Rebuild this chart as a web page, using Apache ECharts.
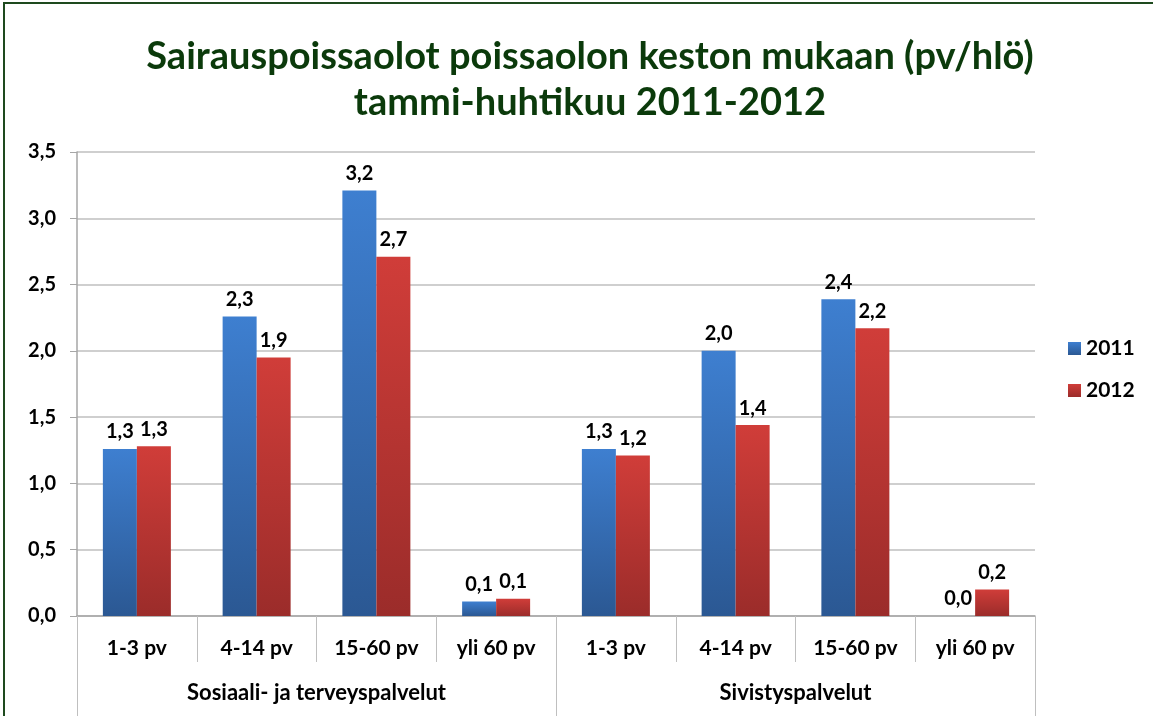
<!DOCTYPE html>
<html>
<head>
<meta charset="utf-8">
<script src="https://cdn.jsdelivr.net/npm/echarts@6/dist/echarts.min.js"></script>
<style>
html,body{margin:0;padding:0;background:#fff;overflow:hidden;}
#frame{position:absolute;left:3px;top:2px;width:1300px;height:900px;border:2px solid #1e4a1e;box-sizing:border-box;}
#chart{position:absolute;left:0;top:0;width:1153px;height:716px;}
</style>
</head>
<body>
<div id="frame"></div>
<div id="chart"></div>
<script>
const titleLines = ['Sairauspoissaolot poissaolon keston mukaan (pv/hlö)', 'tammi-huhtikuu 2011-2012'];
const durations = ['1-3 pv', '4-14 pv', '15-60 pv', 'yli 60 pv', '1-3 pv', '4-14 pv', '15-60 pv', 'yli 60 pv'];
const groups = ['Sosiaali- ja terveyspalvelut', 'Sivistyspalvelut'];
const seriesNames = ['2011', '2012'];
const values2011 = [1.26, 2.26, 3.21, 0.11, 1.26, 2.00, 2.39, 0.00];
const values2012 = [1.28, 1.95, 2.71, 0.13, 1.21, 1.44, 2.17, 0.20];
const yTicks = {min: 0, max: 3.5, interval: 0.5};

const FONT = 'Lato';
const fmt = v => Number(v).toFixed(1).replace('.', ',');

function grad(top, bottom) {
  return new echarts.graphic.LinearGradient(0, 0, 0, 1, [
    {offset: 0, color: top}, {offset: 1, color: bottom}
  ]);
}

const chart = echarts.init(document.getElementById('chart'), null, {renderer: 'canvas'});
const labelStyle = {
  show: true, position: 'top', distance: 7,
  formatter: p => fmt(p.value),
  fontFamily: FONT, fontWeight: 'bold', fontSize: 20, color: '#000'
};
chart.setOption({
  backgroundColor: 'transparent',
  animation: false,
  title: {
    text: titleLines.join('\n'),
    left: 585, top: 29, textAlign: 'center',
    textStyle: {fontFamily: FONT, fontWeight: 'bold', fontSize: 38, lineHeight: 46, color: '#0b3a0b'}
  },
  legend: {
    orient: 'vertical', left: 1063, top: 333,
    itemWidth: 13, itemHeight: 13, itemGap: 21,
    icon: 'rect',
    textStyle: {fontFamily: FONT, fontWeight: 'bold', fontSize: 21, color: '#000'},
    data: seriesNames
  },
  grid: {left: 77, right: 118, top: 152, bottom: 100, containLabel: false},
  xAxis: [
    {
      type: 'category', position: 'bottom', data: durations,
      axisLine: {show: true, lineStyle: {color: '#a6a6a6', width: 1.5}},
      axisTick: {show: true, length: 46, interval: 0, lineStyle: {color: '#bfbfbf', width: 1}},
      axisLabel: {interval: 0, margin: 22, fontFamily: FONT, fontWeight: 'bold', fontSize: 21, color: '#000'}
    },
    {
      type: 'category', position: 'bottom', data: groups,
      axisLine: {show: false},
      axisTick: {show: true, length: 100, interval: 0, lineStyle: {color: '#bfbfbf', width: 1}},
      axisLabel: {interval: 0, margin: 66, fontFamily: FONT, fontWeight: 'bold', fontSize: 22, color: '#000'}
    }
  ],
  yAxis: {
    type: 'value', min: yTicks.min, max: yTicks.max, interval: yTicks.interval,
    axisLine: {show: true, lineStyle: {color: '#a6a6a6', width: 1.5}},
    axisTick: {show: true, length: 7, lineStyle: {color: '#a6a6a6'}},
    splitLine: {show: true, lineStyle: {color: '#bfbfbf', width: 1.5}},
    axisLabel: {margin: 21, formatter: v => fmt(v), fontFamily: FONT, fontWeight: 'bold', fontSize: 20, color: '#000'}
  },
  series: [
    {
      name: seriesNames[0], type: 'bar', xAxisIndex: 0, data: values2011,
      barWidth: 34, barGap: '0%',
      itemStyle: {color: grad('#3e7fd0', '#2b5893')},
      label: labelStyle
    },
    {
      name: seriesNames[1], type: 'bar', xAxisIndex: 0, data: values2012,
      barWidth: 34, barGap: '0%',
      itemStyle: {color: grad('#d03d39', '#9b2c2a')},
      label: labelStyle
    }
  ]
});
</script>
</body>
</html>
